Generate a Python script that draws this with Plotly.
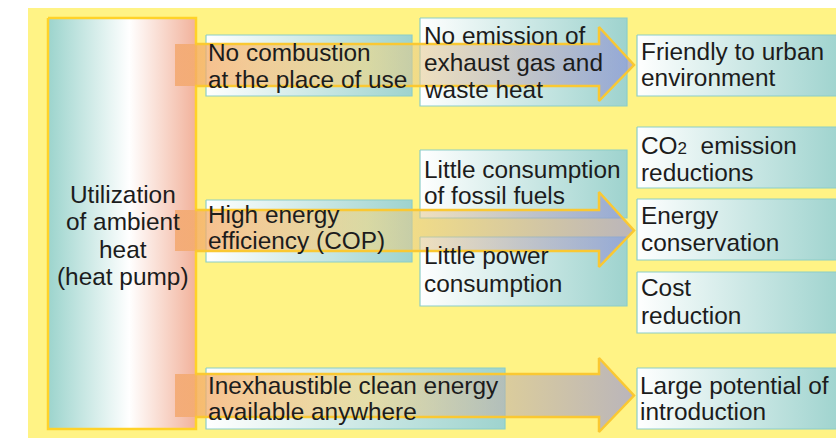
import plotly.graph_objects as go

# Texte du schéma (une entrée par ligne de texte)
hub_lines = ["Utilization", "of ambient", "heat", "(heat pump)"]
feature_lines = [
    ["No combustion", "at the place of use"],
    ["High energy", "efficiency (COP)"],
    ["Inexhaustible clean energy", "available anywhere"],
]
effect_lines = [
    ["No emission of", "exhaust gas and", "waste heat"],
    ["Little consumption", "of fossil fuels"],
    ["Little power", "consumption"],
]
benefit_lines = [
    ["Friendly to urban", "environment"],
    ["CO<span style='font-size:17px'>2</span>  emission", "reductions"],
    ["Energy", "conservation"],
    ["Cost", "reduction"],
    ["Large potential of", "introduction"],
]

# Géométrie (pixels, origine en haut à gauche)
hub_box = (48, 196, 18, 429)
feature_boxes = [(206, 412, 35, 96), (206, 412, 200, 262), (206, 505, 368, 429)]
effect_boxes = [(420, 627, 18, 106), (420, 627, 150, 218), (420, 627, 237, 306)]
benefit_boxes = [(637, 842, 35, 96), (637, 842, 127, 188), (637, 842, 199, 260),
                 (637, 842, 272, 333), (637, 842, 368, 429)]
# flèches : (y haut tige, y bas tige, y haut pointe, y bas pointe)
arrows = [(44, 86, 27, 101), (210, 251, 192, 267), (374, 417, 358, 432)]
arrow_x0, arrow_line_x0, head_x, tip_x = 175, 195, 599, 634

# position des lignes de texte : (x gauche, lignes de base)
hub_baselines = [202, 229, 257, 284]
feature_pos = [(208, [60, 87]), (208, [222, 248]), (208, [393, 419])]
effect_pos = [(424, [43, 70, 97]), (424, [177, 203]), (424, [263, 291])]
benefit_pos = [(641, [59, 85]), (641, [153, 180]), (641, [223, 250]),
               (641, [295, 323]), (640, [393, 419])]

FONT = "Liberation Sans, Arial, Helvetica, sans-serif"
TEXT_COLOR = "#1c1c1c"
BOX_SCALE = [[0, "rgb(255,255,255)"], [1, "rgb(158,211,206)"]]
HUB_SCALE = [[0, "rgb(156,212,205)"], [0.55, "rgb(255,255,255)"], [1, "rgb(242,178,155)"]]
ARROW_SCALE = [[0, "rgba(243,165,105,0.8)"], [0.42, "rgba(248,214,120,0.55)"],
               [1, "rgba(140,140,222,0.6)"]]

fig = go.Figure()


def add_box(x0, x1, y0, y1, scale, line_color, line_width):
    fig.add_trace(go.Scatter(
        x=[x0, x1, x1, x0, x0], y=[y0, y0, y1, y1, y0],
        mode="lines", fill="toself",
        fillgradient=dict(type="horizontal", colorscale=scale),
        line=dict(color=line_color, width=line_width),
        hoverinfo="skip",
    ))


add_box(*hub_box, HUB_SCALE, "rgb(255,210,40)", 2.5)
for b in feature_boxes + effect_boxes + benefit_boxes:
    add_box(*b, BOX_SCALE, "rgb(140,205,200)", 1.2)

# flèches translucides
for st, sb, ht, hb in arrows:
    mid = (st + sb) / 2
    fig.add_trace(go.Scatter(
        x=[arrow_x0, head_x, head_x, tip_x, head_x, head_x, arrow_x0, arrow_x0],
        y=[st, st, ht, mid, hb, sb, sb, st],
        mode="lines", fill="toself",
        fillgradient=dict(type="horizontal", colorscale=ARROW_SCALE),
        line=dict(width=0, color="rgba(0,0,0,0)"),
        hoverinfo="skip",
    ))
    fig.add_trace(go.Scatter(
        x=[arrow_line_x0, head_x, head_x, tip_x, head_x, head_x, arrow_line_x0],
        y=[st, st, ht, mid, hb, sb, sb],
        mode="lines", line=dict(color="rgb(250,200,50)", width=2.5),
        hoverinfo="skip",
    ))


def add_lines(x, baselines, lines, anchor="left"):
    for yb, txt in zip(baselines, lines):
        fig.add_annotation(x=x, y=yb - 8, text=txt, showarrow=False,
                           xanchor=anchor, yanchor="middle",
                           borderpad=0, borderwidth=0,
                           font=dict(family=FONT, size=24.4, color=TEXT_COLOR))


add_lines((hub_box[0] + hub_box[1]) / 2 + 1, hub_baselines, hub_lines, anchor="center")
for (x, bl), lines in zip(feature_pos, feature_lines):
    add_lines(x, bl, lines)
for (x, bl), lines in zip(effect_pos, effect_lines):
    add_lines(x, bl, lines)
for (x, bl), lines in zip(benefit_pos, benefit_lines):
    add_lines(x, bl, lines)

# fond jaune
fig.add_shape(type="rect", x0=28, x1=850, y0=8, y1=450, layer="below",
              fillcolor="rgb(255,243,133)", line=dict(width=0))

fig.update_layout(
    width=836, height=438,
    margin=dict(l=0, r=0, t=0, b=0),
    paper_bgcolor="white", plot_bgcolor="white",
    showlegend=False, hovermode=False,
    xaxis=dict(range=[0, 836], visible=False, fixedrange=True),
    yaxis=dict(range=[438, 0], visible=False, fixedrange=True),
)

# page sans marge pour que la figure commence en (0, 0), sans barre d'outils
fig.write_html("out.html", config={"displayModeBar": False},
               post_script="document.body.style.margin='0';")
